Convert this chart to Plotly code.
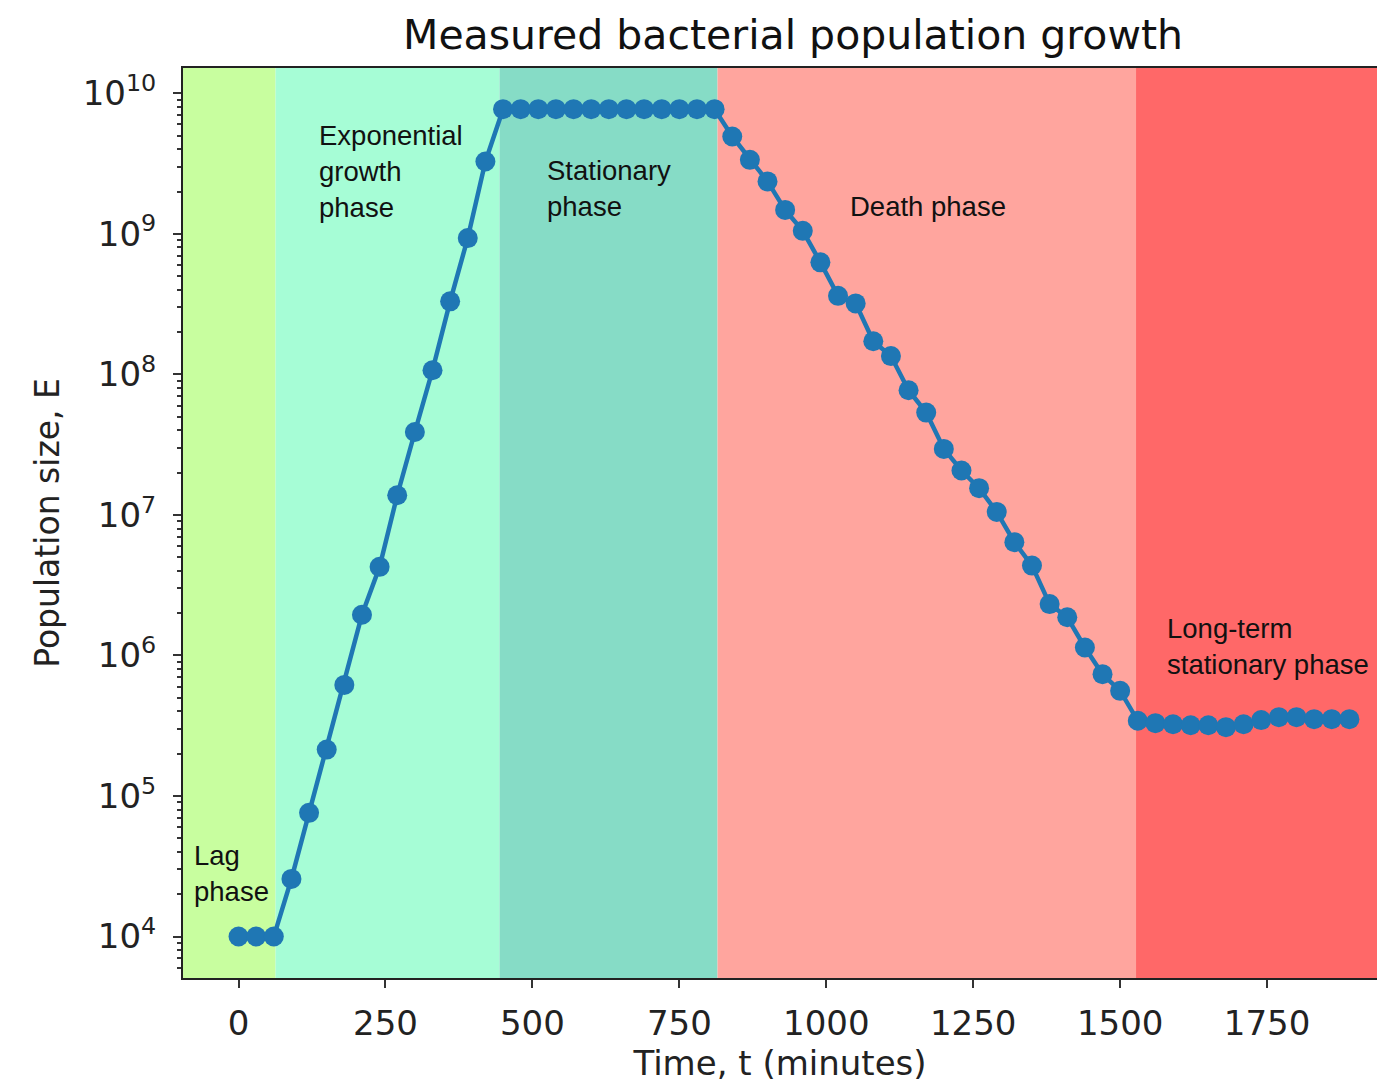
import plotly.graph_objects as go

# ---- data ----
time_min = [0, 30, 60, 90, 120, 150, 180, 210, 240, 270, 300, 330, 360, 390, 420,
            450, 480, 510, 540, 570, 600, 630, 660, 690, 720, 750, 780, 810,
            840, 870, 900, 930, 960, 990, 1020, 1050, 1080, 1110, 1140, 1170, 1200,
            1230, 1260, 1290, 1320, 1350, 1380, 1410, 1440, 1470, 1500, 1530,
            1560, 1590, 1620, 1650, 1680, 1710, 1740, 1770, 1800, 1830, 1860, 1890]

population = [1.0e4, 1.0e4, 1.0e4, 2.57e4, 7.59e4, 2.14e5, 6.17e5, 1.95e6, 4.27e6,
              1.38e7, 3.89e7, 1.07e8, 3.31e8, 9.33e8, 3.27e9,
              7.71e9, 7.71e9, 7.71e9, 7.71e9, 7.71e9, 7.71e9, 7.71e9, 7.71e9, 7.71e9,
              7.71e9, 7.71e9, 7.71e9, 7.71e9,
              4.93e9, 3.36e9, 2.36e9, 1.48e9, 1.05e9, 6.27e8, 3.62e8, 3.20e8, 1.72e8,
              1.35e8, 7.71e7, 5.35e7, 2.95e7, 2.07e7, 1.55e7, 1.05e7, 6.40e6, 4.36e6,
              2.32e6, 1.87e6, 1.14e6, 7.36e5, 5.60e5, 3.43e5,
              3.30e5, 3.24e5, 3.19e5, 3.19e5, 3.09e5, 3.24e5, 3.47e5, 3.64e5, 3.64e5,
              3.52e5, 3.52e5, 3.52e5]

phase_labels = ["Lag<br>phase", "Exponential<br>growth<br>phase", "Stationary<br>phase",
                "Death phase", "Long-term<br>stationary phase"]
phase_start = [-94.5, 63, 444, 815, 1527]
phase_end = [63, 444, 815, 1527, 1990]
phase_colors = ["#c8fe9f", "#a6fdd6", "#86dcc6", "#ffa59e", "#ff6868"]

x_ticks = [0, 250, 500, 750, 1000, 1250, 1500, 1750]
y_ticks = [1e4, 1e5, 1e6, 1e7, 1e8, 1e9, 1e10]
y_ticktext = ["10<sup>4</sup>", "10<sup>5</sup>", "10<sup>6</sup>", "10<sup>7</sup>",
              "10<sup>8</sup>", "10<sup>9</sup>", "10<sup>10</sup>"]

FONT = "DejaVu Sans"
ANN_FONT = "Liberation Sans"

W, H = 1377, 1087

fig = go.Figure()

for s, e, c in zip(phase_start, phase_end, phase_colors):
    fig.add_vrect(x0=s, x1=e, fillcolor=c, opacity=1, line_width=0, layer="below")

fig.add_trace(go.Scatter(
    x=time_min, y=population, mode="lines+markers",
    line=dict(color="#1f77b4", width=4.5),
    marker=dict(color="#1f77b4", size=20),
    showlegend=False,
))

# phase annotations (left-aligned text blocks)
ann_pos = [(-80, 4.449), (133, 9.445), (522, 9.32), (1037, 9.196), (1576, 6.063)]
for (ax_, ay_), txt in zip(ann_pos, phase_labels):
    fig.add_annotation(x=ax_, y=ay_, xref="x", yref="y", text=txt, showarrow=False,
                       xanchor="left", yanchor="middle", align="left",
                       font=dict(family=ANN_FONT, size=27.5, color="#111111"))

minor_vals = [k * 10 ** n for n in range(3, 11) for k in range(2, 10)]

fig.update_layout(
    width=W, height=H,
    margin=dict(l=183, r=0, t=68, b=109),
    paper_bgcolor="white", plot_bgcolor="white",
    font=dict(family=FONT, color="#222222"),
    title=dict(text="Measured bacterial population growth", xref="container",
               x=793 / W, xanchor="center", yref="container", y=1 - 35 / H,
               yanchor="middle", font=dict(family=FONT, size=41, color="#111111")),
    xaxis=dict(range=[-94.5, 1937], tickmode="array", tickvals=x_ticks,
               ticks="outside", ticklen=8, tickwidth=2, tickcolor="#333333",
               showline=True, mirror=True, linecolor="#222222", linewidth=2,
               showgrid=False, zeroline=False, ticklabelstandoff=6,
               tickfont=dict(family=FONT, size=34, color="#222222"),
               title=dict(text="Time, t (minutes)", standoff=6,
                          font=dict(family=FONT, size=34, color="#222222"))),
    yaxis=dict(type="log", range=[3.705, 10.18], tickmode="array", tickvals=y_ticks,
               ticktext=y_ticktext, ticks="outside", ticklen=8, tickwidth=2,
               tickcolor="#333333", showline=True, mirror=False, linecolor="#222222",
               linewidth=2, showgrid=False, zeroline=False, ticklabelstandoff=10,
               minor=dict(tickmode="array", tickvals=minor_vals, ticks="outside",
                          ticklen=4, tickwidth=1.5, tickcolor="#333333", showgrid=False),
               tickfont=dict(family=FONT, size=34, color="#222222"),
               title=dict(text="Population size, E", standoff=13,
                          font=dict(family=FONT, size=33, color="#222222"))),
)

# remove the default page margin so the figure sits flush in the window
fig.write_html("out.html",
               config={"displayModeBar": False},
               post_script="document.body.style.margin='0';"
                           "document.body.style.overflow='hidden';")
